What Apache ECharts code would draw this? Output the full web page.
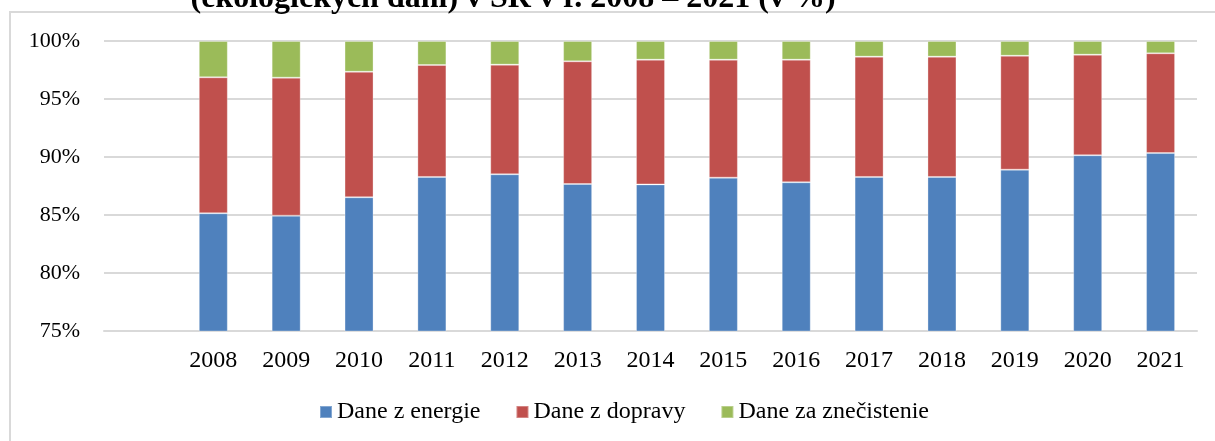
<!DOCTYPE html>
<html>
<head>
<meta charset="utf-8">
<script src="https://cdn.jsdelivr.net/npm/echarts@6/dist/echarts.min.js"></script>
<style>
  html, body { margin: 0; padding: 0; background: #fff; }
  #main { width: 1215px; height: 441px; }
</style>
</head>
<body>
<div id="main"></div>
<script>
var chartDom = document.getElementById('main')
var myChart = echarts.init(chartDom)
var option

// roky (prvá pozícia na osi zostáva prázdna)
const years = ['2008', '2009', '2010', '2011', '2012', '2013', '2014',
  '2015', '2016', '2017', '2018', '2019', '2020', '2021']
// podiely v %
const energie = [85.15, 84.94, 86.53, 88.28, 88.51, 87.67, 87.64, 88.22, 87.82, 88.28, 88.28, 88.91, 90.15, 90.34]
const doprava = [11.72, 11.90, 10.82, 9.65, 9.45, 10.58, 10.75, 10.17, 10.57, 10.37, 10.37, 9.82, 8.67, 8.60]
const znecistenie = [3.13, 3.16, 2.65, 2.07, 2.04, 1.75, 1.61, 1.61, 1.61, 1.35, 1.35, 1.27, 1.18, 1.06]
const seriesNames = ['Dane z energie', 'Dane z dopravy', 'Dane za znečistenie']
const yTicks = { min: 75, max: 100, step: 5 }

const font = '"Liberation Serif", "Times New Roman", serif'
const colors = ['#4f81bd', '#c0504d', '#9bbb59']

function bar(name, values, color) {
  return {
    name: name,
    type: 'bar',
    stack: 'total',
    barWidth: 29,
    color: color,
    itemStyle: {
      borderColor: 'rgba(255,255,255,0.3)',
      borderWidth: 1
    },
    data: [null].concat(values)
  }
}

option = {
  animation: false,
  backgroundColor: '#fff',
  textStyle: { fontFamily: font },
  graphic: [
    {
      type: 'rect',
      silent: true,
      shape: { x: 10, y: 12, width: 1400, height: 600 },
      style: { fill: 'none', stroke: '#d9d9d9', lineWidth: 2 }
    },
    {
      type: 'text',
      silent: true,
      x: 513,
      y: 15,
      style: {
        text: '(ekologických daní) v SR v r. 2008 – 2021 (v %)',
        font: 'bold 32px ' + font,
        fill: '#000',
        textAlign: 'center',
        textVerticalAlign: 'bottom'
      }
    }
  ],
  legend: {
    left: 314,
    top: 395,
    icon: 'rect',
    itemWidth: 12,
    itemHeight: 12,
    itemGap: 35,
    textStyle: { fontFamily: font, fontSize: 24, color: '#000' },
    data: seriesNames
  },
  grid: {
    left: 104,
    right: 18,
    top: 41,
    bottom: 110
  },
  xAxis: {
    type: 'category',
    data: [''].concat(years),
    axisTick: { show: false },
    axisLine: { lineStyle: { color: '#d9d9d9', width: 2 } },
    axisLabel: {
      color: '#000',
      fontFamily: font,
      fontSize: 24,
      margin: 18,
      interval: 0
    }
  },
  yAxis: {
    type: 'value',
    min: yTicks.min,
    max: yTicks.max,
    interval: yTicks.step,
    axisLine: { show: false },
    axisTick: { show: false },
    splitLine: { lineStyle: { color: '#d9d9d9', width: 2 } },
    axisLabel: {
      color: '#000',
      fontFamily: font,
      fontSize: 22,
      margin: 24,
      formatter: '{value}%'
    }
  },
  series: [
    bar(seriesNames[0], energie, colors[0]),
    bar(seriesNames[1], doprava, colors[1]),
    bar(seriesNames[2], znecistenie, colors[2])
  ]
}

option && myChart.setOption(option)
</script>
</body>
</html>
